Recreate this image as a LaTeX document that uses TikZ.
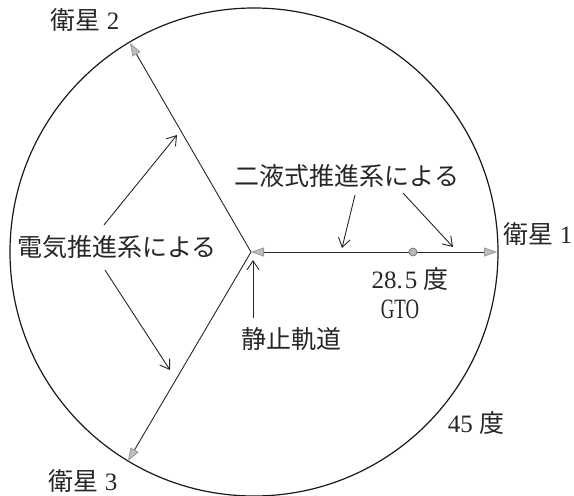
\documentclass[tikz,border=0pt]{standalone}
\usepackage{fontspec}
\setmainfont{Liberation Serif}
\newfontfamily\jp{Noto Sans CJK JP}
\usetikzlibrary{arrows.meta}
\begin{document}
\begin{tikzpicture}[x=1pt,y=-1pt,
  sattip/.tip={Triangle[length=13pt,width=9pt,color=gray!80,fill=gray!50]},
  sat/.style={line width=0.9pt,draw=black!85,-sattip},
  satboth/.style={line width=0.9pt,draw=black!85,sattip-sattip},
  note/.style={line width=0.9pt,draw=black!85,-{Straight Barb[length=9pt,width=12pt,line width=0.9pt]}},
  lbl/.style={font=\fontsize{25}{27}\selectfont,inner sep=0pt,text=black!85},
]
\useasboundingbox (0,0) rectangle (574,496);
\node[circle,draw=black!90,line width=1.2pt,minimum size=488pt,inner sep=0pt] (orbit) at (254,252) {};

\coordinate (hub) at (251,252);
\coordinate (s1) at (497,252);
\coordinate (s2) at (130,43);
\coordinate (s3) at (128,461);

\draw[sat] (hub) -- (s2);
\draw[sat] (hub) -- (s3);
\draw[satboth] (hub) -- (s1);

\node[circle,fill=gray!55,draw=gray!80!black,minimum size=8pt,inner sep=0pt,line width=0.6pt] (gto) at (413,252) {};

% annotation arrows
\coordinate (e1a) at (104,225); \coordinate (e1b) at (177,135);
\coordinate (e2a) at (105,270); \coordinate (e2b) at (170,370);
\coordinate (g1a) at (253,318); \coordinate (g1b) at (253,260);
\coordinate (b1a) at (355,195); \coordinate (b1b) at (342,248);
\coordinate (b2a) at (403,193); \coordinate (b2b) at (453,247);
\draw[note] (e1a) -- (e1b);
\draw[note] (e2a) -- (e2b);
\draw[note] (g1a) -- (g1b);
\draw[note] (b1a) -- (b1b);
\draw[note] (b2a) -- (b2b);

% labels
\node[lbl] (lsat2) at (85,20) {{\jp 衛星} 2};
\node[lbl] (lsat1) at (538,234) {{\jp 衛星} 1};
\node[lbl] (lsat3) at (83,481) {{\jp 衛星} 3};
\node[lbl] (ldeg45) at (476,423) {45 {\jp 度}};
\node[lbl] (l285) at (410,279) {28.\kern2pt5 {\jp 度}};
\node[lbl] (lgto) at (400,309) {\scalebox{0.75}[1.12]{GTO}};
\node[lbl] (lelec) at (117,247) {\jp 電気推進系による};
\node[lbl] (lgeo) at (291,339) {\jp 静止軌道};
\node[lbl] (lbi) at (347,176) {\jp 二液式推進系による};
\end{tikzpicture}
\end{document}
